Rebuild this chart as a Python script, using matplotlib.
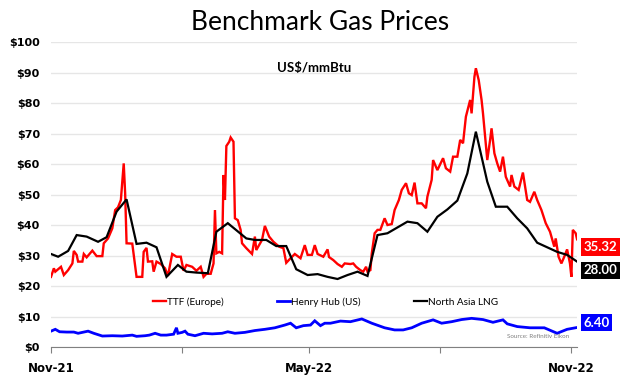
import pandas as pd
import matplotlib
matplotlib.use('Agg')
import matplotlib.pyplot as plt
import matplotlib.transforms as mtransforms

# --- Dados (dias desde 01-Nov-2021, US$/mmBtu) ---
INICIO = pd.Timestamp('2021-11-01')

ttf_dias = [0, 2, 3, 7, 9, 12, 15, 16, 18, 19, 22, 23, 25, 29, 32, 36, 37, 40, 43, 45,
            47, 49, 51, 52, 53, 57, 60, 64, 65, 67, 68, 71, 72, 74, 77, 80, 82, 85, 88, 91,
            93, 95, 99, 102, 105, 107, 109, 112, 114, 115, 116, 118, 120, 121, 122, 123, 125, 126, 128, 129,
            131, 133, 134, 137, 141, 143, 144, 148, 150, 153, 156, 160, 163, 165, 168, 171, 175, 178, 180, 183,
            185, 187, 191, 194, 195, 198, 201, 204, 206, 210, 212, 214, 217, 219, 221, 222, 224, 225, 227, 229,
            231, 234, 236, 239, 241, 244, 246, 249, 251, 253, 255, 257, 260, 263, 264, 267, 268, 271, 275, 277,
            280, 282, 285, 287, 289, 291, 294, 295, 297, 298, 300, 302, 303, 306, 308, 309, 311, 313, 315, 317,
            319, 322, 323, 325, 328, 331, 334, 336, 339, 341, 344, 347, 350, 353, 354, 356, 358, 360, 362, 364,
            365, 366, 368, 369]
ttf_valores = [23.0, 25.8, 24.7, 26.3, 23.6, 25.2, 27.4, 31.5, 30.2, 28.0, 28.0, 30.5, 29.4, 31.6, 29.8, 29.8, 34.0, 35.6, 38.9, 44.9,
               45.8, 48.2, 60.2, 50.4, 34.0, 33.9, 23.0, 23.0, 31.2, 32.5, 28.0, 28.1, 24.7, 28.0, 27.2, 25.8, 23.3, 30.5, 29.6, 29.6,
               25.0, 26.9, 26.3, 25.0, 26.3, 23.0, 24.0, 24.0, 27.4, 44.9, 30.7, 31.2, 30.7, 56.4, 48.2, 65.9, 67.3, 68.7, 67.3, 42.2,
               41.6, 38.4, 34.0, 32.4, 30.5, 36.2, 31.8, 35.1, 39.7, 36.2, 34.5, 32.9, 32.4, 27.6, 29.1, 30.5, 29.1, 33.4, 30.2, 30.2,
               33.4, 30.5, 29.6, 32.0, 29.5, 28.5, 27.2, 26.3, 27.4, 27.2, 27.4, 26.3, 25.2, 24.7, 26.3, 24.7, 25.2, 30.7, 37.3, 38.4,
               38.4, 42.2, 40.0, 40.3, 44.9, 48.2, 51.5, 53.7, 50.4, 49.8, 53.9, 47.1, 47.1, 45.5, 49.3, 54.8, 61.3, 58.0, 61.9, 58.6,
               57.5, 62.4, 62.4, 67.9, 66.8, 75.5, 81.0, 76.6, 88.6, 91.4, 87.5, 81.0, 76.6, 61.3, 67.9, 71.7, 63.5, 60.2, 57.5, 62.4,
               55.8, 52.6, 56.4, 52.6, 51.5, 57.2, 48.2, 47.6, 50.9, 48.2, 44.9, 40.6, 37.8, 32.9, 35.6, 29.6, 27.4, 29.6, 32.0, 27.4,
               23.0, 38.4, 37.3, 35.32]

hh_dias = [0, 3, 6, 11, 16, 19, 23, 26, 30, 36, 43, 50, 57, 60, 66, 69, 73, 77, 81, 86,
           88, 89, 92, 94, 96, 101, 107, 113, 120, 124, 129, 136, 143, 150, 157, 164, 168, 172, 177, 182,
           185, 189, 192, 196, 203, 210, 218, 225, 234, 241, 247, 253, 260, 268, 274, 281, 288, 295, 303, 310,
           317, 320, 327, 336, 346, 355, 362, 369]
hh_valores = [5.2, 5.8, 5.0, 4.9, 4.9, 4.5, 4.9, 5.2, 4.5, 3.6, 3.7, 3.6, 3.9, 3.5, 3.7, 3.9, 4.5, 3.9, 3.9, 4.2,
              6.3, 4.5, 4.8, 5.2, 4.2, 3.7, 4.5, 4.3, 4.5, 5.0, 4.5, 4.8, 5.4, 5.8, 6.3, 7.2, 7.8, 6.3, 7.0, 7.2,
              8.6, 7.0, 7.8, 7.8, 8.5, 8.3, 9.2, 7.8, 6.3, 5.6, 5.6, 6.3, 7.8, 8.9, 7.8, 8.3, 9.0, 9.4, 9.0, 8.1,
              8.9, 7.6, 6.7, 6.3, 6.3, 4.5, 5.8, 6.40]

lng_dias = [0, 5, 12, 18, 25, 33, 39, 46, 53, 60, 67, 74, 81, 89, 95, 102, 110, 116, 124, 137,
            143, 151, 158, 165, 172, 180, 187, 194, 201, 208, 215, 222, 229, 236, 250, 257, 264, 271, 278, 285,
            292, 298, 306, 312, 320, 327, 334, 341, 348, 355, 362, 369]
lng_valores = [30.5, 29.6, 31.5, 36.7, 36.2, 34.5, 36.0, 44.4, 48.4, 33.8, 34.2, 32.7, 23.0, 26.9, 24.7, 24.4, 24.2, 37.8, 40.6, 35.6,
               35.1, 35.1, 33.1, 33.1, 25.5, 23.6, 23.9, 23.0, 22.3, 23.6, 24.7, 23.3, 36.7, 37.3, 41.1, 40.6, 37.8, 42.7, 45.1, 48.0,
               56.9, 70.6, 54.2, 46.0, 46.0, 42.2, 38.9, 34.2, 32.7, 31.2, 30.2, 28.00]

series = [
    ('TTF (Europe)', ttf_dias, ttf_valores, '#ff0000', 1.7),
    ('Henry Hub (US)', hh_dias, hh_valores, '#0000ff', 2.0),
    ('North Asia LNG', lng_dias, lng_valores, '#000000', 1.6),
]

ticks_datas = ['2021-11-01', '2022-02-01', '2022-05-01', '2022-08-01', '2022-11-01']
ticks_rotulos = ['Nov-21', '', 'May-22', '', 'Nov-22']

fig = plt.figure(figsize=(6.4, 3.76), dpi=100)
ax = fig.add_axes([0.0797, 0.0771, 0.822, 0.8112])
plt.rcParams['font.family'] = ['Lato', 'DejaVu Sans']

for nome, dias, valores, cor, lw in series:
    datas = INICIO + pd.to_timedelta(dias, unit='D')
    ax.plot(datas, valores, color=cor, lw=lw, label=nome, solid_joinstyle='miter')

ax.set_xlim(INICIO, INICIO + pd.Timedelta(days=369))
ax.set_ylim(0, 100)
ax.set_yticks(range(0, 101, 10))
ax.set_yticklabels([f'${v}' for v in range(0, 101, 10)], fontsize=8, fontweight='bold')
ax.set_xticks(pd.to_datetime(ticks_datas))
ax.set_xticklabels(ticks_rotulos, fontsize=8.5, fontweight='bold')
ax.tick_params(axis='y', length=0, pad=8)
ax.tick_params(axis='x', length=4, color='#808080', direction='out', pad=7)
ax.grid(axis='y', color='#e6e6e6', lw=1)
ax.set_axisbelow(True)
for lado in ['top', 'right', 'left']:
    ax.spines[lado].set_visible(False)
ax.spines['bottom'].set_color('#808080')

fig.text(0.50, 0.94, 'Benchmark Gas Prices', ha='center', va='center', fontsize=19)
ax.text(0.5, 0.915, 'US$/mmBtu', transform=ax.transAxes, ha='center', va='center',
        fontsize=9.5, fontweight='bold')

ax.legend(loc='center', bbox_to_anchor=(0.522, 0.148), ncol=3, frameon=False, fontsize=7.2,
          handlelength=1.3, handletextpad=0.1, columnspacing=5.3)

# rótulos do último valor
trans = mtransforms.blended_transform_factory(ax.transAxes, ax.transData)
rotulos = [(ttf_valores[-1], 32.8, '#ff0000'), (lng_valores[-1], 25.1, '#000000'),
           (hh_valores[-1], 8.0, '#0000ff')]
for valor, ypos, cor in rotulos:
    ax.text(1.012, ypos, f'{valor:.2f}', transform=trans, ha='left', va='center',
            color='white', fontsize=9.5, fontweight='bold', clip_on=False,
            bbox=dict(boxstyle='square,pad=0.2', fc=cor, ec='none'))

ax.text(0.985, 0.035, 'Source: Refinitiv Eikon', transform=ax.transAxes, ha='right',
        va='center', fontsize=4.5, color='#808080')

fig.savefig('out.png', dpi=100)
